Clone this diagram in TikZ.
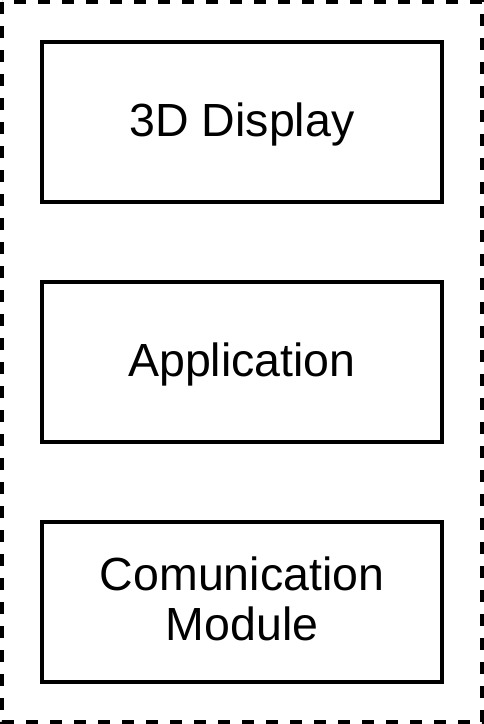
\documentclass[tikz,border=0pt]{standalone}
\usepackage{fontspec}
\setmainfont{Liberation Sans}
\begin{document}
\begin{tikzpicture}[x=1pt,y=-1pt,
  layerbox/.style={draw=black,line width=3.6pt,minimum width=400pt,minimum height=160pt,
    inner sep=0pt,align=center,font=\fontsize{46.5}{50}\selectfont},
  oneline/.style={text height=39pt,text depth=10pt},
  frame/.style={draw=black,line width=3.6pt,dash pattern=on 12pt off 12pt}]
  \useasboundingbox (0,0) rectangle (484,724);
  % dashed enclosure
  \draw[frame] (2,2) rectangle (482,722);
  % stacked layers
  \node[layerbox,oneline] (display) at (242,122) {3D Display};
  \node[layerbox,oneline] (app) at (242,362) {Application};
  \node[layerbox] (comm) at (242,602) {};
  \node[align=center,inner sep=0pt,font=\fontsize{46.5}{50}\selectfont]
    (commlabel) at ([yshift=3pt]comm.center) {Comunication\\Module};
\end{tikzpicture}
\end{document}
